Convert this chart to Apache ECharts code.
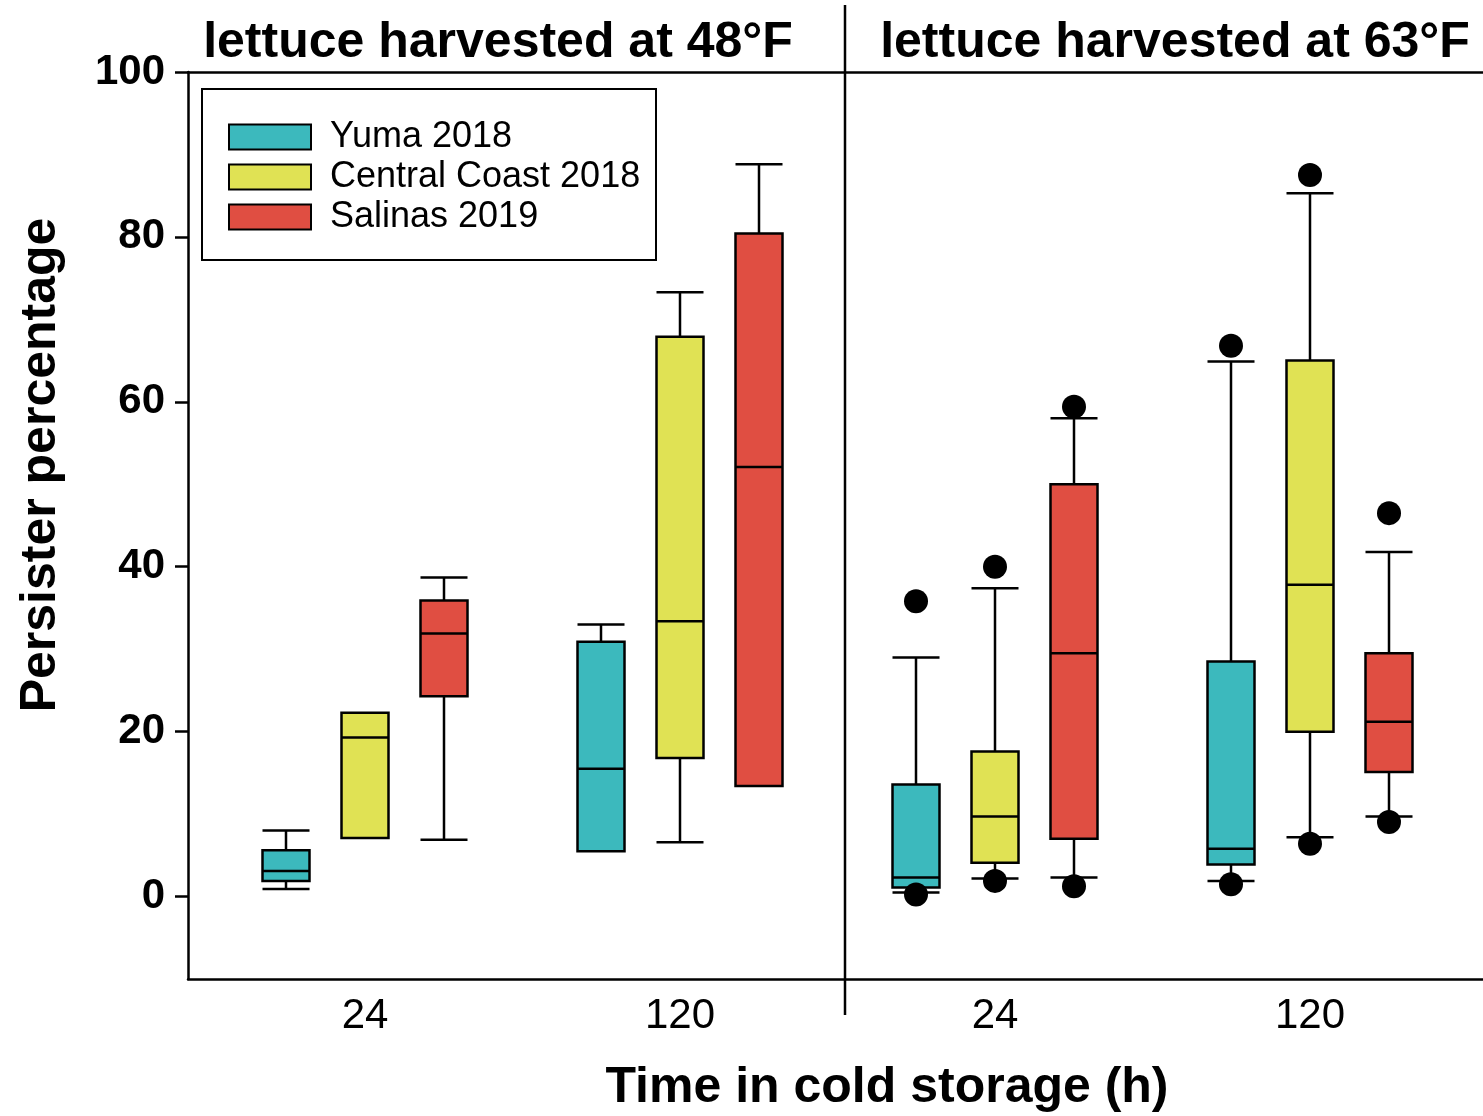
<!DOCTYPE html>
<html><head><meta charset="utf-8">
<script src="https://cdn.jsdelivr.net/npm/echarts@6/dist/echarts.min.js"></script>
<style>html,body{margin:0;padding:0;background:#fff}#c{width:1483px;height:1116px}</style>
</head><body><div id="c"></div>
<script>
// ---- data ----
const categories = ['24', '120', '24', '120'];           // time in cold storage (h); first two = 48°F, last two = 63°F
const panelTitles = ['lettuce harvested at 48°F', 'lettuce harvested at 63°F'];
const seriesNames = ['Yuma 2018', 'Central Coast 2018', 'Salinas 2019'];
const yTicks = [0, 20, 40, 60, 80, 100];

// [min, Q1, median, Q3, max] per category
const yumaBoxes = [[0.9, 1.9, 3.1, 5.6, 8.0], [5.5, 5.5, 15.5, 30.9, 33.0], [0.5, 1.1, 2.3, 13.6, 29.0], [1.9, 3.9, 5.8, 28.5, 64.9]];
const ccBoxes   = [[7.1, 7.1, 19.3, 22.3, 22.3], [6.6, 16.8, 33.4, 67.9, 73.3], [2.2, 4.1, 9.7, 17.6, 37.4], [7.2, 20.0, 37.8, 65.0, 85.3]];
const salBoxes  = [[6.9, 24.3, 31.9, 35.9, 38.7], [13.4, 13.4, 52.1, 80.4, 88.8], [2.3, 7.0, 29.5, 50.0, 58.0], [9.7, 15.1, 21.2, 29.5, 41.8]];

// outliers: [category index, value]
const yumaOutliers = [[2, 35.8], [2, 0.25], [3, 66.8], [3, 1.5]];
const ccOutliers   = [[2, 40.0], [2, 1.9], [3, 87.5], [3, 6.4]];
const salOutliers  = [[2, 59.4], [2, 1.25], [3, 46.5], [3, 9.05]];

// ---- style ----
const colors = ['#3CB9BD', '#E0E254', '#E04E42'];
const FONT = '"Liberation Sans", Arial, sans-serif';
const TOP = 72, H = 907;
const boxSets = [yumaBoxes, ccBoxes, salBoxes];
const outSets = [yumaOutliers, ccOutliers, salOutliers];
const gridLefts = [128.5, 207.5, 286.5];

const grids = [{ left: 188, top: TOP, width: 1295, height: H, outerBoundsMode: 'none', containLabel: false }];
gridLefts.forEach(l => grids.push({ left: l, top: TOP, width: 1260, height: H, outerBoundsMode: 'none', containLabel: false }));

const frameLine = { show: true, onZero: false, lineStyle: { color: '#000', width: 2.5 } };
const xAxes = [
  { type: 'value', gridIndex: 0, min: 0, max: 1, position: 'bottom', axisLine: frameLine,
    axisTick: { show: false }, axisLabel: { show: false }, splitLine: { show: false } },
  { type: 'value', gridIndex: 0, min: 0, max: 1, position: 'top', axisLine: frameLine,
    axisTick: { show: false }, axisLabel: { show: false }, splitLine: { show: false } }
];
const yAxes = [
  { type: 'value', gridIndex: 0, min: -10, max: 100,
    axisLine: frameLine,
    axisTick: { show: true, customValues: yTicks, length: 13, lineStyle: { color: '#000', width: 2.5 } },
    axisLabel: { show: true, customValues: yTicks, margin: 23, color: '#000',
      fontSize: 42, fontWeight: 'bold', fontFamily: FONT },
    splitLine: { show: false } }
];
const series = [];
seriesNames.forEach((name, i) => {
  const isLabelAxis = i === 1;
  xAxes.push({
    type: 'category', gridIndex: i + 1, data: categories,
    axisLine: { show: false }, axisTick: { show: false }, splitLine: { show: false },
    axisLabel: { show: isLabelAxis, margin: 16, color: '#000', fontSize: 42, fontFamily: FONT }
  });
  yAxes.push({ type: 'value', gridIndex: i + 1, min: -10, max: 100, show: false, splitLine: { show: false } });
  series.push({
    name: name, type: 'boxplot', xAxisIndex: i + 2, yAxisIndex: i + 1,
    data: boxSets[i], boxWidth: [47, 47],
    itemStyle: { color: colors[i], borderColor: '#000', borderWidth: 2.5 },
    emphasis: { disabled: true }, z: 3
  });
  series.push({
    name: name + ' outliers', type: 'scatter', xAxisIndex: i + 2, yAxisIndex: i + 1,
    data: outSets[i], symbol: 'circle', symbolSize: 24,
    itemStyle: { color: '#000', opacity: 1 }, emphasis: { disabled: true }, z: 4
  });
});

const chart = echarts.init(document.getElementById('c'), null, { renderer: 'canvas' });
chart.setOption({
  animation: false,
  backgroundColor: '#fff',
  grid: grids,
  xAxis: xAxes,
  yAxis: yAxes,
  legend: {
    data: seriesNames.map((n, i) => ({ name: n, icon: 'rect',
      itemStyle: { color: colors[i], borderColor: '#000', borderWidth: 2 } })),
    orient: 'vertical', left: 228, top: 119, padding: 0,
    itemWidth: 82, itemHeight: 25, itemGap: 4, selectedMode: false,
    textStyle: { fontSize: 36, lineHeight: 36, fontFamily: FONT, color: '#000', padding: [0, 0, 0, 14] }
  },
  series: series,
  graphic: [
    { type: 'rect', shape: { x: 202, y: 89, width: 454, height: 171 },
      style: { fill: 'none', stroke: '#000', lineWidth: 2 }, z: 1 },
    { type: 'line', shape: { x1: 845, y1: 5, x2: 845, y2: 1015 },
      style: { stroke: '#000', lineWidth: 2.5 }, z: 5 },
    { type: 'text', x: 498, y: 43, style: { text: panelTitles[0], fill: '#000',
      font: 'bold 50px ' + FONT, align: 'center', verticalAlign: 'middle' } },
    { type: 'text', x: 1175, y: 43, style: { text: panelTitles[1], fill: '#000',
      font: 'bold 50px ' + FONT, align: 'center', verticalAlign: 'middle' } },
    { type: 'text', x: 887, y: 1088, style: { text: 'Time in cold storage (h)', fill: '#000',
      font: 'bold 50px ' + FONT, align: 'center', verticalAlign: 'middle' } },
    { type: 'text', x: 41, y: 465, rotation: Math.PI / 2, style: { text: 'Persister percentage', fill: '#000',
      font: 'bold 50px ' + FONT, align: 'center', verticalAlign: 'middle' } }
  ]
});
</script></body></html>
